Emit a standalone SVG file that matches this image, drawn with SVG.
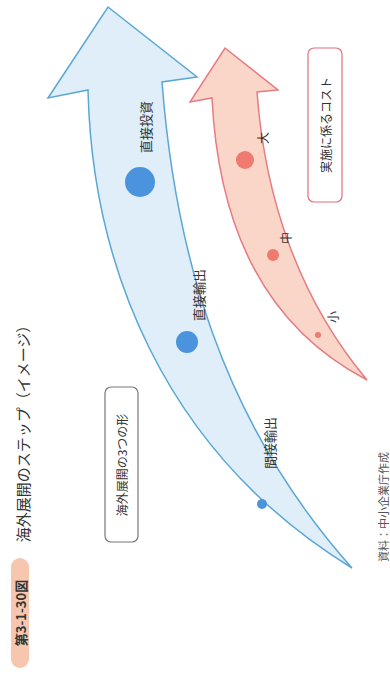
<svg xmlns="http://www.w3.org/2000/svg" width="390" height="691" viewBox="0 0 390 691">
<style>
.t{font-family:"Noto Sans CJK JP","Noto Sans CJK SC",sans-serif;fill:#333;text-anchor:middle;dominant-baseline:central}
.blue{fill:#dfeef9;stroke:#5aa7d4;stroke-width:1.5;stroke-linejoin:miter}
.pink{fill:#f9d6c8;stroke:#e77b82;stroke-width:1.5}
.bdot{fill:#4b93dc}
.pdot{fill:#ee7a70}
</style>
<rect width="390" height="691" fill="#ffffff"/>
<g id="title">
<rect x="11" y="558" width="18" height="110" rx="9" fill="#f7c6ae"/>
<text class="t" transform="translate(20,613) rotate(-90)" font-size="13" font-weight="bold">第3-1-30図</text>
<text class="t" transform="translate(22,430) rotate(-90)" font-size="15">海外展開のステップ（イメージ）</text>
</g>
<g id="blue-arrow">
<path class="blue" d="M108,7 L197,77 L162,82 C175,250 220,420 352,568 C160,450 92,260 88,90 L48,98 Z"/>
</g>
<g id="pink-arrow">
<path class="pink" d="M225,48 L278,90 L257,92 C265,200 300,300 367,380 C290,340 220,260 212,98 L190,102 Z"/>
</g>
<g id="direct-investment">
<circle class="bdot" cx="140" cy="182" r="15"/>
<text class="t" transform="translate(145,127) rotate(-90)" font-size="13">直接投資</text>
</g>
<g id="direct-export">
<circle class="bdot" cx="187" cy="342" r="11"/>
<text class="t" transform="translate(198,295) rotate(-90)" font-size="13">直接輸出</text>
</g>
<g id="indirect-export">
<circle class="bdot" cx="262" cy="504" r="5"/>
<text class="t" transform="translate(269,443) rotate(-90)" font-size="13">間接輸出</text>
</g>
<g id="cost-large">
<circle class="pdot" cx="245" cy="160" r="9"/>
<text class="t" transform="translate(262,138) rotate(-90)" font-size="12">大</text>
</g>
<g id="cost-medium">
<circle class="pdot" cx="273" cy="255" r="6"/>
<text class="t" transform="translate(285,238) rotate(-90)" font-size="12">中</text>
</g>
<g id="cost-small">
<circle class="pdot" cx="318" cy="335" r="3"/>
<text class="t" transform="translate(332,317) rotate(-90)" font-size="12">小</text>
</g>
<g id="legend-forms">
<rect x="105" y="387" width="33" height="155" rx="6" fill="#fff" stroke="#777" stroke-width="1.2"/>
<text class="t" transform="translate(121.5,465) rotate(-90)" font-size="12">海外展開の3つの形</text>
</g>
<g id="legend-cost">
<rect x="308" y="48" width="34" height="154" rx="6" fill="#fff" stroke="#e0707c" stroke-width="1.2"/>
<text class="t" transform="translate(325,125) rotate(-90)" font-size="12">実施に係るコスト</text>
</g>
<g id="connectors"></g>
<g id="source">
<text class="t" transform="translate(383,507) rotate(-90)" font-size="11" style="fill:#555">資料：中小企業庁作成</text>
</g>
</svg>
